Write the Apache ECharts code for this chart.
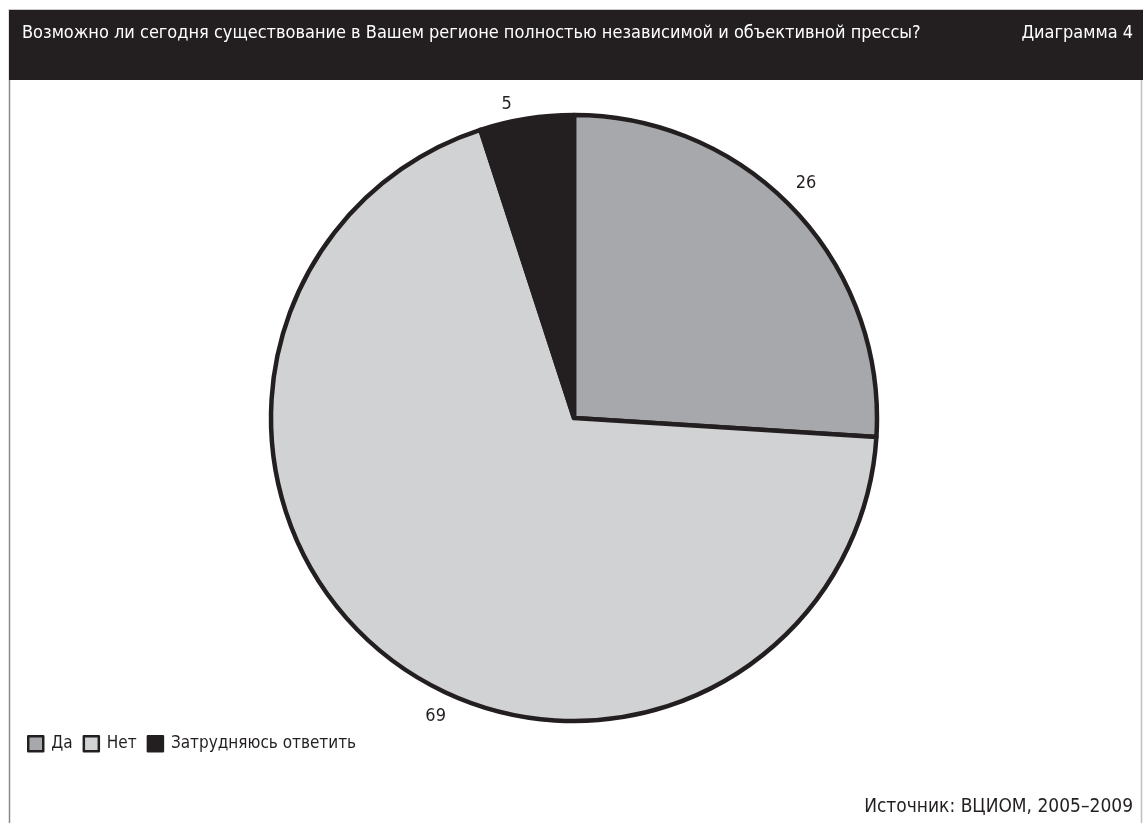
<!DOCTYPE html>
<html>
<head>
<meta charset="utf-8">
<script src="https://cdn.jsdelivr.net/npm/echarts@6/dist/echarts.min.js"></script>
<style>
  html, body { margin: 0; padding: 0; background: #ffffff; }
  #chart { width: 1143px; height: 823px; }
</style>
</head>
<body>
<div id="chart"></div>
<script>
// Survey answers (percent of respondents)
const categories = ['Да', 'Нет', 'Затрудняюсь ответить'];
const values = [26, 69, 5];
const sliceColors = ['#a7a8ab', '#d1d2d4', '#231f20'];

const titleText = 'Возможно ли сегодня существование в Вашем регионе полностью независимой и объективной прессы?';
const figureText = 'Диаграмма 4';
const sourceText = 'Источник: ВЦИОМ, 2005–2009';

const FONT = '"Liberation Sans Narrow", "DejaVu Sans Condensed", "Roboto", sans-serif';
const INK = '#231f20';

// small nudges of the value labels away from their default outside spots
const labelNudge = [[-13, -19], [70, 49], [-8, -3]];

const chart = echarts.init(document.getElementById('chart'), null, { renderer: 'canvas' });

chart.setOption({
  backgroundColor: '#ffffff',
  animation: false,
  graphic: [
    // frame lines
    { type: 'line', shape: { x1: 9.5, y1: 9, x2: 9.5, y2: 823 }, style: { stroke: '#8a8a8c', lineWidth: 1.5 }, z: 0 },
    { type: 'line', shape: { x1: 1141.5, y1: 9, x2: 1141.5, y2: 823 }, style: { stroke: '#bfbfc1', lineWidth: 1.5 }, z: 0 },
    { type: 'line', shape: { x1: 9, y1: 9.5, x2: 1143, y2: 9.5 }, style: { stroke: '#c8c8ca', lineWidth: 1 }, z: 0 },
    // header band
    { type: 'rect', shape: { x: 9, y: 10, width: 1134, height: 70 }, style: { fill: INK }, z: 1 },
    { type: 'text', left: 22, top: 24, style: { text: titleText, fill: '#ffffff', font: '18px ' + FONT }, z: 2 },
    { type: 'text', right: 10, top: 24, style: { text: figureText, fill: '#ffffff', font: '18px ' + FONT, align: 'right' }, z: 2 },
    { type: 'text', right: 10, top: 798, style: { text: sourceText, fill: INK, font: '19px ' + FONT, align: 'right' }, z: 2 }
  ],
  legend: {
    left: 22,
    top: 730,
    orient: 'horizontal',
    itemWidth: 15,
    itemHeight: 15,
    itemGap: 10,
    icon: 'rect',
    selectedMode: false,
    textStyle: { fontFamily: FONT, fontSize: 17, color: INK, padding: [2, 0, 0, 3] },
    itemStyle: { borderColor: INK, borderWidth: 2.5 },
    data: categories
  },
  series: [{
    type: 'pie',
    center: [574, 418],
    radius: [0, 303],
    startAngle: 90,
    clockwise: true,
    avoidLabelOverlap: false,
    itemStyle: { borderColor: INK, borderWidth: 4.5 },
    label: {
      show: true,
      position: 'outside',
      formatter: '{c}',
      fontFamily: FONT,
      fontSize: 18,
      color: INK
    },
    labelLine: { show: false, length: 12, length2: 0 },
    labelLayout: function (params) {
      const n = labelNudge[params.dataIndex] || [0, 0];
      return { dx: n[0], dy: n[1] };
    },
    emphasis: { disabled: true },
    data: categories.map((name, i) => ({
      name: name,
      value: values[i],
      itemStyle: { color: sliceColors[i] }
    }))
  }]
});
</script>
</body>
</html>
